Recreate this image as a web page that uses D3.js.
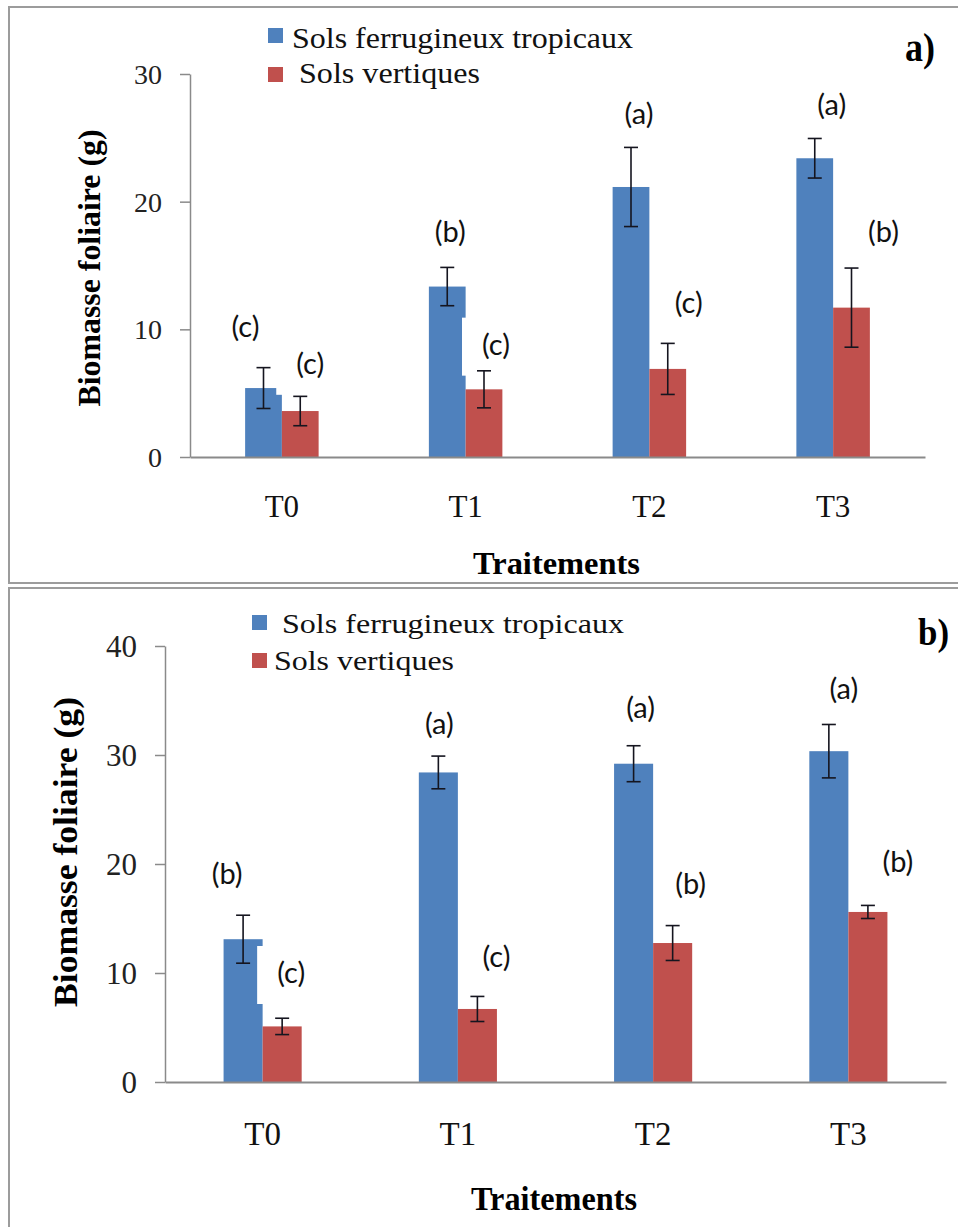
<!DOCTYPE html>
<html>
<head>
<meta charset="utf-8">
<script src="https://cdn.jsdelivr.net/npm/d3@7"></script>
<style>
  html, body { margin: 0; padding: 0; background: #fff; }
  svg { display: block; }
</style>
</head>
<body>
<div id="chart"></div>
<script>
const treatments = ['T0', 'T1', 'T2', 'T3'];
const seriesNames = ['Sols ferrugineux tropicaux', 'Sols vertiques'];

// panel a)
const ferrugineuxA = [5.4, 13.35, 21.15, 23.4];
const ferrugineuxErrA = [1.6, 1.5, 3.1, 1.55];
const vertiquesA = [3.6, 5.3, 6.9, 11.7];
const vertiquesErrA = [1.15, 1.45, 2.0, 3.1];
const lettersFerrA = ['(c)', '(b)', '(a)', '(a)'];
const lettersVertA = ['(c)', '(c)', '(c)', '(b)'];
const yTicksA = [0, 10, 20, 30];

// panel b)
const ferrugineuxB = [13.1, 28.4, 29.2, 30.35];
const ferrugineuxErrB = [2.2, 1.5, 1.65, 2.45];
const vertiquesB = [5.1, 6.7, 12.75, 15.6];
const vertiquesErrB = [0.75, 1.15, 1.6, 0.6];
const lettersFerrB = ['(b)', '(a)', '(a)', '(a)'];
const lettersVertB = ['(c)', '(c)', '(b)', '(b)'];
const yTicksB = [0, 10, 20, 30, 40];

const blue = '#4f81bd';
const red = '#c0504d';
const serif = '"Liberation Serif", "Times New Roman", serif';

const svg = d3.select('#chart').append('svg')
  .attr('width', 958)
  .attr('height', 1227);

function drawPanel(p) {
  const g = svg.append('g');

  // frame of the panel
  g.append('rect')
    .attr('x', p.frame[0])
    .attr('y', p.frame[1])
    .attr('width', p.frame[2])
    .attr('height', p.frame[3])
    .attr('fill', 'none')
    .attr('stroke', '#9c9c9c')
    .attr('stroke-width', 2);

  const x0 = d3.scaleBand().domain(treatments).range([p.left, p.right]);
  const x1 = d3.scaleBand().domain(seriesNames)
    .range([x0.bandwidth() * 0.3, x0.bandwidth() * 0.7]);
  const y = d3.scaleLinear().domain([0, d3.max(p.yTicks)]).range([p.bottom, p.top]);

  const rows = treatments.map((t, i) => ({
    t: t,
    vals: p.series.map((s, k) => ({
      name: seriesNames[k],
      color: s.color,
      v: s.values[i],
      e: s.errors[i],
      letter: s.letters[i],
      pos: s.letterPos[i]
    }))
  }));

  const groups = g.selectAll('.grp')
    .data(rows)
    .enter().append('g')
    .attr('class', 'grp')
    .attr('transform', d => `translate(${x0(d.t)},0)`);

  groups.selectAll('.bar')
    .data(d => d.vals)
    .enter().append('rect')
    .attr('class', 'bar')
    .attr('x', d => x1(d.name))
    .attr('y', d => y(d.v))
    .attr('width', x1.bandwidth())
    .attr('height', d => y(0) - y(d.v))
    .attr('fill', d => d.color);

  // white boxes behind the significance letters (they bite into some bars)
  groups.selectAll('.lbox')
    .data(d => d.vals)
    .enter().append('rect')
    .attr('class', 'lbox')
    .attr('x', d => x1(d.name) + x1.bandwidth() / 2 + d.pos[0] - 34)
    .attr('y', d => y(d.pos[1]) - 27)
    .attr('width', 68)
    .attr('height', 58)
    .attr('fill', '#fff');

  // error bars
  const err = groups.selectAll('.err')
    .data(d => d.vals)
    .enter().append('g')
    .attr('class', 'err')
    .attr('transform', d => `translate(${x1(d.name) + x1.bandwidth() / 2},0)`)
    .attr('stroke', '#15151f')
    .attr('stroke-width', 1.6);
  err.append('line')
    .attr('y1', d => y(d.v + d.e))
    .attr('y2', d => y(d.v - d.e));
  err.append('line')
    .attr('x1', -7).attr('x2', 7)
    .attr('y1', d => y(d.v + d.e))
    .attr('y2', d => y(d.v + d.e));
  err.append('line')
    .attr('x1', -7).attr('x2', 7)
    .attr('y1', d => y(d.v - d.e))
    .attr('y2', d => y(d.v - d.e));

  groups.selectAll('.letter')
    .data(d => d.vals)
    .enter().append('text')
    .attr('class', 'letter')
    .attr('x', d => x1(d.name) + x1.bandwidth() / 2 + d.pos[0])
    .attr('y', d => y(d.pos[1]))
    .attr('dy', '0.35em')
    .attr('text-anchor', 'middle')
    .attr('font-family', 'Lato, "Open Sans", sans-serif')
    .attr('font-size', '29px')
    .attr('fill', '#111')
    .text(d => d.letter);

  // axes
  const yAxis = g.append('g')
    .attr('transform', `translate(${p.left},0)`)
    .call(d3.axisLeft(y).tickValues(p.yTicks).tickSize(10).tickSizeOuter(0).tickPadding(p.yPad));
  yAxis.selectAll('path, line').attr('stroke', '#8a8a8a').attr('stroke-width', 1.5);
  yAxis.selectAll('text')
    .attr('font-family', serif)
    .attr('font-size', p.yFont + 'px')
    .attr('fill', '#222')
    .attr('dy', '0.34em');

  const xAxis = g.append('g')
    .attr('transform', `translate(0,${p.bottom})`)
    .call(d3.axisBottom(x0).tickSize(0).tickSizeOuter(0));
  xAxis.select('.domain').attr('stroke', '#8a8a8a').attr('stroke-width', 2);
  xAxis.selectAll('text')
    .attr('font-family', serif)
    .attr('font-size', p.xFont + 'px')
    .attr('fill', '#111')
    .attr('y', p.xLabelOffset)
    .attr('dy', '0.34em');

  // axis titles
  g.append('text')
    .attr('transform', `translate(${p.yTitle[0]},${p.yTitle[1]}) rotate(-90)`)
    .attr('text-anchor', 'middle')
    .attr('dy', '0.35em')
    .attr('font-family', serif)
    .attr('font-weight', 'bold')
    .attr('font-size', p.yTitle[2] + 'px')
    .attr('textLength', p.yTitle[3])
    .attr('lengthAdjust', 'spacingAndGlyphs')
    .text('Biomasse foliaire (g)');

  g.append('text')
    .attr('x', p.xTitle[0])
    .attr('y', p.xTitle[1])
    .attr('font-family', serif)
    .attr('font-weight', 'bold')
    .attr('font-size', p.xTitle[2] + 'px')
    .attr('textLength', p.xTitle[3])
    .attr('lengthAdjust', 'spacingAndGlyphs')
    .text('Traitements');

  // panel letter
  g.append('text')
    .attr('x', p.tag[0])
    .attr('y', p.tag[1])
    .attr('font-family', serif)
    .attr('font-weight', 'bold')
    .attr('font-size', p.tag[2] + 'px')
    .attr('textLength', p.tag[3])
    .attr('lengthAdjust', 'spacingAndGlyphs')
    .text(p.tagText);

  // legend
  const legend = g.append('g');
  legend.selectAll('rect')
    .data(p.legend)
    .enter().append('rect')
    .attr('x', d => d.sx)
    .attr('y', d => d.sy)
    .attr('width', 15)
    .attr('height', 15)
    .attr('fill', (d, i) => p.series[i].color);
  legend.selectAll('text')
    .data(p.legend)
    .enter().append('text')
    .attr('x', d => d.tx)
    .attr('y', d => d.ty)
    .attr('font-family', serif)
    .attr('font-size', p.legendFont + 'px')
    .attr('fill', '#111')
    .attr('textLength', d => d.len)
    .attr('lengthAdjust', 'spacingAndGlyphs')
    .text((d, i) => seriesNames[i]);
}

drawPanel({
  frame: [9, 7, 960, 576],
  left: 190, right: 925, top: 74, bottom: 457,
  yTicks: yTicksA, yPad: 18, yFont: 28, xFont: 31, xLabelOffset: 49,
  yTitle: [89, 268, 32, 277],
  xTitle: [473, 574, 31, 167],
  tag: [905, 61, 40, 30], tagText: 'a)',
  legendFont: 29,
  legend: [
    { sx: 268, sy: 28, tx: 292, ty: 48, len: 341 },
    { sx: 268, sy: 67, tx: 299, ty: 83, len: 181 }
  ],
  series: [
    { color: blue, values: ferrugineuxA, errors: ferrugineuxErrA, letters: lettersFerrA,
      letterPos: [[-18, 10.2], [3, 17.6], [8, 26.9], [17, 27.6]] },
    { color: red, values: vertiquesA, errors: vertiquesErrA, letters: lettersVertA,
      letterPos: [[10, 7.3], [12, 8.8], [21, 12.1], [32, 17.6]] }
  ]
});

drawPanel({
  frame: [9, 588, 960, 700],
  left: 165, right: 946, top: 646, bottom: 1082,
  yTicks: yTicksB, yPad: 18, yFont: 31, xFont: 33, xLabelOffset: 52,
  yTitle: [65, 852, 34, 310],
  xTitle: [471, 1210, 33, 166],
  tag: [918, 645, 37, 31], tagText: 'b)',
  legendFont: 27,
  legend: [
    { sx: 252, sy: 615, tx: 282, ty: 633, len: 342 },
    { sx: 252, sy: 653, tx: 274, ty: 670, len: 180 }
  ],
  series: [
    { color: blue, values: ferrugineuxB, errors: ferrugineuxErrB, letters: lettersFerrB,
      letterPos: [[-16, 19.1], [1, 32.9], [7, 34.3], [15, 36.1]] },
    { color: red, values: vertiquesB, errors: vertiquesErrB, letters: lettersVertB,
      letterPos: [[9, 10.0], [19, 11.5], [18, 18.2], [30, 20.2]] }
  ]
});
</script>
</body>
</html>
